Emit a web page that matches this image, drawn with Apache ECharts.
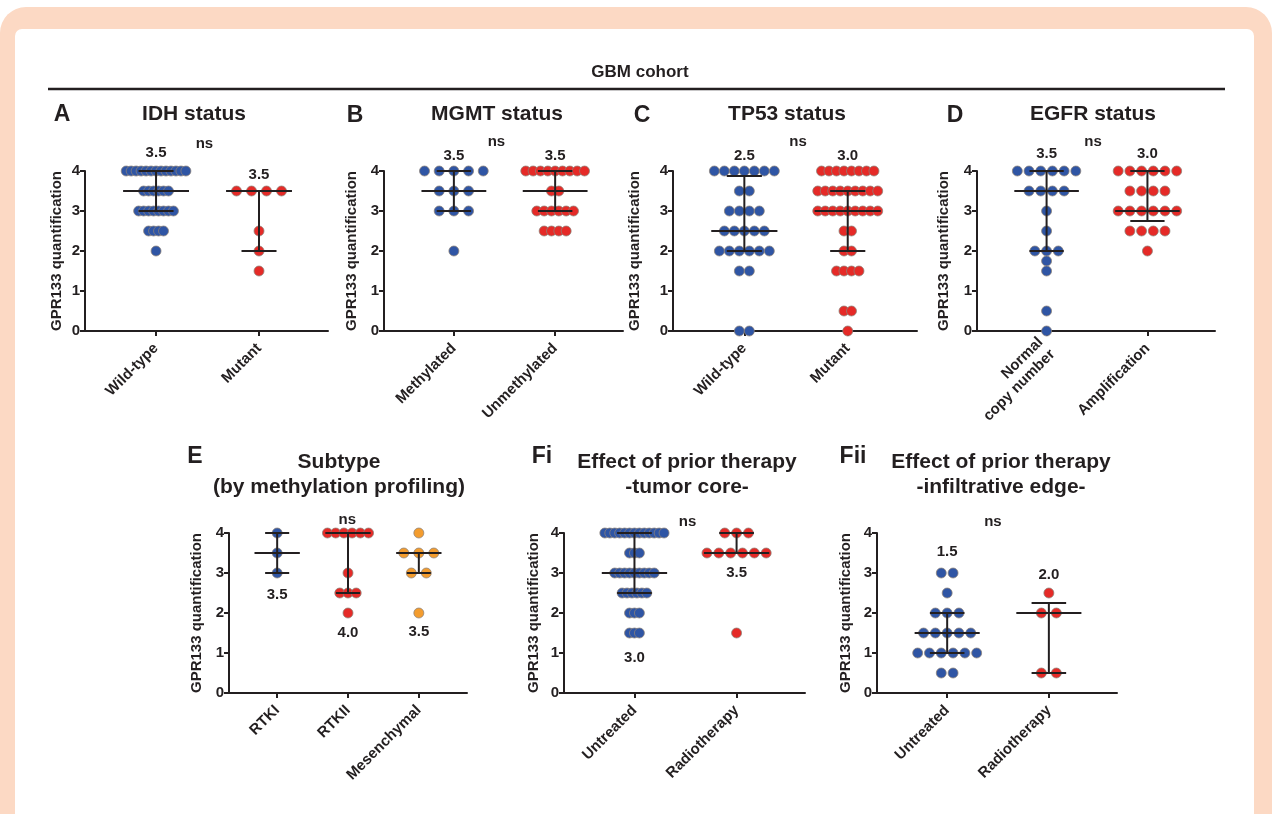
<!DOCTYPE html>
<html>
<head>
<meta charset="utf-8">
<script src="https://cdn.jsdelivr.net/npm/echarts@6/dist/echarts.min.js"></script>
<style>
  html, body { margin: 0; padding: 0; background: #fff; overflow: hidden; }
  #frame { position: absolute; left: 0; top: 7px; width: 1272px; height: 900px; background: #fcd9c4; border-radius: 26px; }
  #inner { position: absolute; left: 15px; top: 29px; width: 1239px; height: 900px; background: #fff; border-radius: 7px; }
  #main { position: absolute; left: 0; top: 0; width: 1274px; height: 814px; }
</style>
</head>
<body>
<div id="frame"></div>
<div id="inner"></div>
<div id="main"></div>
<script>
  // GPR133 scores per group (one entry per dot)
  const idhWild = [4,4,4,4,4,4,4,4,4,4,4,4,4, 3.5,3.5,3.5,3.5,3.5,3.5, 3,3,3,3,3,3,3,3, 2.5,2.5,2.5,2.5, 2];
  const idhMut = [3.5,3.5,3.5,3.5, 2.5, 2, 1.5];
  const mgmtMeth = [4,4,4,4,4, 3.5,3.5,3.5, 3,3,3, 2];
  const mgmtUnmeth = [4,4,4,4,4,4,4,4,4, 3.5,3.5, 3,3,3,3,3,3, 2.5,2.5,2.5,2.5];
  const tp53Wild = [4,4,4,4,4,4,4, 3.5,3.5, 3,3,3,3, 2.5,2.5,2.5,2.5,2.5, 2,2,2,2,2,2, 1.5,1.5, 0,0];
  const tp53Mut = [4,4,4,4,4,4,4,4, 3.5,3.5,3.5,3.5,3.5,3.5,3.5,3.5,3.5, 3,3,3,3,3,3,3,3,3, 2.5,2.5, 2,2, 1.5,1.5,1.5,1.5, 0.5,0.5, 0];
  const egfrNormal = [4,4,4,4,4,4, 3.5,3.5,3.5,3.5, 3, 2.5, 2,2,2, 1.75, 1.5, 0.5, 0];
  const egfrAmp = [4,4,4,4,4,4, 3.5,3.5,3.5,3.5, 3,3,3,3,3,3, 2.5,2.5,2.5,2.5, 2];
  const rtk1 = [4, 3.5, 3];
  const rtk2 = [4,4,4,4,4,4, 3, 2.5,2.5,2.5, 2];
  const mesench = [4, 3.5,3.5,3.5, 3,3, 2];
  const coreUntreated = [4,4,4,4,4,4,4,4,4,4,4,4,4, 3.5,3.5,3.5, 3,3,3,3,3,3,3,3,3, 2.5,2.5,2.5,2.5,2.5,2.5, 2,2,2, 1.5,1.5,1.5];
  const coreRadio = [4,4,4, 3.5,3.5,3.5,3.5,3.5,3.5, 1.5];
  const edgeUntreated = [3,3, 2.5, 2,2,2, 1.5,1.5,1.5,1.5,1.5, 1,1,1,1,1,1, 0.5,0.5];
  const edgeRadio = [2.5, 2,2, 0.5,0.5];

  // median and interquartile range per group
  const idhMed = [3.5, 3.5], idhQ1 = [3, 2], idhQ3 = [4, 3.5];
  const mgmtMed = [3.5, 3.5], mgmtQ1 = [3, 3], mgmtQ3 = [4, 4];
  const tp53Med = [2.5, 3.0], tp53Q1 = [2, 2], tp53Q3 = [3.875, 3.5];
  const egfrMed = [3.5, 3.0], egfrQ1 = [2, 2.75], egfrQ3 = [4, 4];
  const subMed = [3.5, 4, 3.5], subQ1 = [3, 2.5, 3], subQ3 = [4, 4, 3.5];
  const coreMed = [3, 3.5], coreQ1 = [2.5, 3.5], coreQ3 = [4, 4];
  const edgeMed = [1.5, 2], edgeQ1 = [1, 0.5], edgeQ3 = [2, 2.25];

  // printed median labels
  const idhLabels = ['3.5', '3.5'];
  const mgmtLabels = ['3.5', '3.5'];
  const tp53Labels = ['2.5', '3.0'];
  const egfrLabels = ['3.5', '3.0'];
  const subLabels = ['3.5', '4.0', '3.5'];
  const coreLabels = ['3.0', '3.5'];
  const edgeLabels = ['1.5', '2.0'];

  const yTicks = [0, 1, 2, 3, 4];

  const FONT = '"Liberation Sans", Arial, Helvetica, sans-serif';
  const INK = '#231f20';
  const BLUE = '#2f55a4', RED = '#e52a27', ORANGE = '#f39c2e';

  const panels = [
    { letter: 'A', letterAt: [62, 115], title: ['IDH status'], titleAt: [194, 114],
      box: [85, 171, 243, 160], xr: [0.31, 2.67], nameGap: 21,
      cats: ['Wild-type', 'Mutant'], groups: [idhWild, idhMut], colors: [BLUE, RED],
      med: idhMed, q1: idhQ1, q3: idhQ3, labels: idhLabels, labelY: [4.45, 3.9], ns: [1.47, 4.68] },
    { letter: 'B', letterAt: [355, 116], title: ['MGMT status'], titleAt: [497, 114],
      box: [384, 171, 239, 160], xr: [0.31, 2.67], nameGap: 25,
      cats: ['Methylated', 'Unmethylated'], groups: [mgmtMeth, mgmtUnmeth], colors: [BLUE, RED],
      med: mgmtMed, q1: mgmtQ1, q3: mgmtQ3, labels: mgmtLabels, labelY: [4.38, 4.38], ns: [1.42, 4.72] },
    { letter: 'C', letterAt: [642, 116], title: ['TP53 status'], titleAt: [787, 114],
      box: [673, 171, 244, 160], xr: [0.31, 2.67], nameGap: 31,
      cats: ['Wild-type', 'Mutant'], groups: [tp53Wild, tp53Mut], colors: [BLUE, RED],
      med: tp53Med, q1: tp53Q1, q3: tp53Q3, labels: tp53Labels, labelY: [4.38, 4.38], ns: [1.52, 4.72] },
    { letter: 'D', letterAt: [955, 116], title: ['EGFR status'], titleAt: [1093, 114],
      box: [977, 171, 238, 160], xr: [0.31, 2.67], nameGap: 26,
      cats: ['Normal\ncopy number', 'Amplification'], groups: [egfrNormal, egfrAmp], colors: [BLUE, RED],
      med: egfrMed, q1: egfrQ1, q3: egfrQ3, labels: egfrLabels, labelY: [4.42, 4.42], ns: [1.46, 4.72] },
    { letter: 'E', letterAt: [195, 457], title: ['Subtype', '(by methylation profiling)'], titleAt: [339, 462],
      box: [229, 533, 238, 160], xr: [0.32, 3.68], nameGap: 25,
      cats: ['RTKI', 'RTKII', 'Mesenchymal'], groups: [rtk1, rtk2, mesench], colors: [BLUE, RED, ORANGE],
      med: subMed, q1: subQ1, q3: subQ3, labels: subLabels, labelY: [2.45, 1.5, 1.52], ns: [1.99, 4.33] },
    { letter: 'Fi', letterAt: [542, 457], title: ['Effect of prior therapy', '-tumor core-'], titleAt: [687, 462],
      box: [564, 533, 241, 160], xr: [0.31, 2.67], nameGap: 23,
      cats: ['Untreated', 'Radiotherapy'], groups: [coreUntreated, coreRadio], colors: [BLUE, RED],
      med: coreMed, q1: coreQ1, q3: coreQ3, labels: coreLabels, labelY: [0.87, 3.0], ns: [1.52, 4.28] },
    { letter: 'Fii', letterAt: [853, 457], title: ['Effect of prior therapy', '-infiltrative edge-'], titleAt: [1001, 462],
      box: [877, 533, 240, 160], xr: [0.31, 2.67], nameGap: 24,
      cats: ['Untreated', 'Radiotherapy'], groups: [edgeUntreated, edgeRadio], colors: [BLUE, RED],
      med: edgeMed, q1: edgeQ1, q3: edgeQ3, labels: edgeLabels, labelY: [3.52, 2.95], ns: [1.45, 4.28] }
  ];

  // spread equal values sideways like a column scatter (beeswarm)
  function swarm(values, center, pxPerUnit) {
    const counts = {};
    values.forEach(v => { counts[v] = (counts[v] || 0) + 1; });
    const nmax = Math.max.apply(null, Object.values(counts));
    const stepPx = nmax > 1 ? Math.min(15, 0.58 * pxPerUnit / (nmax - 1)) : 0;
    const step = stepPx / pxPerUnit;
    const seen = {};
    return values.map(v => {
      const k = counts[v];
      const i = seen[v] = (seen[v] === undefined ? 0 : seen[v] + 1);
      return [center + (i - (k - 1) / 2) * step, v];
    });
  }

  const textStyle = (size) => ({ fontFamily: FONT, fontWeight: 'bold', fontSize: size, color: INK });
  const MED_HALF = 0.32, CAP_HALF = 0.17;

  const grids = [], xAxes = [], yAxes = [], series = [];
  const graphics = [
    { type: 'text', x: 640, y: 72, style: { text: 'GBM cohort', font: 'bold 17px ' + FONT, fill: INK,
      align: 'center', verticalAlign: 'middle', textAlign: 'center', textVerticalAlign: 'middle' } },
    { type: 'line', shape: { x1: 48, y1: 89, x2: 1225, y2: 89 }, style: { stroke: INK, lineWidth: 2.5 } }
  ];

  panels.forEach((p, gi) => {
    const [left, top, width, height] = p.box;
    grids.push({ left, top, width, height });
    const ticks = p.cats.map((c, i) => i + 1);
    xAxes.push({
      gridIndex: gi, type: 'value', min: p.xr[0], max: p.xr[1],
      splitLine: { show: false },
      axisLine: { show: true, onZero: false, lineStyle: { color: INK, width: 2 } },
      axisTick: { show: true, customValues: ticks, length: 5, lineStyle: { color: INK, width: 2 } },
      axisLabel: Object.assign({ customValues: ticks, rotate: 45, margin: 15, lineHeight: 17,
        formatter: v => p.cats[Math.round(v) - 1] }, textStyle(15))
    });
    yAxes.push({
      gridIndex: gi, type: 'value', min: 0, max: 4, interval: 1,
      name: 'GPR133 quantification', nameLocation: 'middle', nameRotate: 90, nameGap: p.nameGap,
      nameTextStyle: textStyle(15),
      splitLine: { show: false },
      axisLine: { show: true, onZero: false, lineStyle: { color: INK, width: 2 } },
      axisTick: { show: true, length: 5, lineStyle: { color: INK, width: 2 } },
      axisLabel: Object.assign({ margin: 5, customValues: yTicks }, textStyle(15))
    });

    const pxPerUnit = width / (p.xr[1] - p.xr[0]);
    p.groups.forEach((vals, k) => {
      series.push({
        type: 'scatter', xAxisIndex: gi, yAxisIndex: gi, z: 2,
        symbol: 'circle', symbolSize: 10,
        itemStyle: { color: p.colors[k], borderColor: 'rgba(140,130,120,0.75)', borderWidth: 1, opacity: 1 },
        data: swarm(vals, k + 1, pxPerUnit)
      });
    });

    // median with interquartile range
    series.push({
      type: 'custom', xAxisIndex: gi, yAxisIndex: gi, z: 3, clip: false,
      data: p.med.map((m, k) => [k + 1, m, p.q1[k], p.q3[k]]),
      renderItem: (params, api) => {
        const x = api.value(0);
        const pm = api.coord([x, api.value(1)]);
        const plo = api.coord([x, api.value(2)]);
        const phi = api.coord([x, api.value(3)]);
        const mh = api.size([MED_HALF, 0])[0];
        const ch = api.size([CAP_HALF, 0])[0];
        const st = { stroke: INK, lineWidth: 2 };
        return { type: 'group', children: [
          { type: 'line', shape: { x1: phi[0], y1: phi[1], x2: plo[0], y2: plo[1] }, style: st },
          { type: 'line', shape: { x1: pm[0] - mh, y1: pm[1], x2: pm[0] + mh, y2: pm[1] }, style: st },
          { type: 'line', shape: { x1: phi[0] - ch, y1: phi[1], x2: phi[0] + ch, y2: phi[1] }, style: st },
          { type: 'line', shape: { x1: plo[0] - ch, y1: plo[1], x2: plo[0] + ch, y2: plo[1] }, style: st }
        ] };
      }
    });

    // median value labels and "ns"
    const labelData = p.labels.map((t, k) => ({ name: t, value: [k + 1, p.labelY[k]] }));
    labelData.push({ name: 'ns', value: p.ns });
    series.push({
      type: 'scatter', xAxisIndex: gi, yAxisIndex: gi, z: 4, clip: false, silent: true,
      symbol: 'circle', symbolSize: 0, itemStyle: { color: INK },
      label: Object.assign({ show: true, position: 'inside', textBorderWidth: 0, opacity: 1,
        formatter: '{b}' }, textStyle(15)),
      data: labelData
    });

    graphics.push({ type: 'text', x: p.letterAt[0], y: p.letterAt[1],
      style: { text: p.letter, font: 'bold 23px ' + FONT, fill: INK,
        align: 'center', verticalAlign: 'middle', textAlign: 'center', textVerticalAlign: 'middle' } });
    p.title.forEach((line, j) => {
      graphics.push({ type: 'text', x: p.titleAt[0], y: p.titleAt[1] + j * 25,
        style: { text: line, font: 'bold 21px ' + FONT, fill: INK,
          align: 'center', verticalAlign: 'middle', textAlign: 'center', textVerticalAlign: 'middle' } });
    });
  });

  const chart = echarts.init(document.getElementById('main'));
  chart.setOption({
    animation: false,
    backgroundColor: 'transparent',
    grid: grids,
    xAxis: xAxes,
    yAxis: yAxes,
    series: series,
    graphic: graphics
  });
  window.addEventListener('resize', function () { chart.resize(); });
</script>
</body>
</html>
